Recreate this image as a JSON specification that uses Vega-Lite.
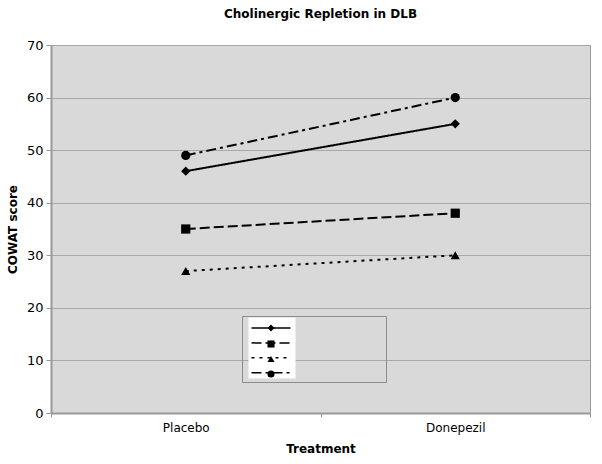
{
  "$schema": "https://vega.github.io/schema/vega-lite/v6.json",
  "width": 539,
  "height": 368,
  "autosize": {"type": "none"},
  "padding": {"left": 51, "top": 45, "right": 12, "bottom": 51},
  "background": "white",
  "title": {
    "text": "Cholinergic Repletion in DLB",
    "font": "DejaVu Sans",
    "fontSize": 12,
    "fontWeight": "bold",
    "color": "black",
    "offset": 18,
    "anchor": "middle"
  },
  "config": {
    "view": {"fill": "#d9d9d9", "stroke": "#9a9a9a", "strokeWidth": 1},
    "font": "DejaVu Sans",
    "axis": {
      "labelFont": "DejaVu Sans",
      "titleFont": "DejaVu Sans",
      "labelColor": "black",
      "titleColor": "black",
      "domainColor": "#999999",
      "domainWidth": 2,
      "tickColor": "#999999",
      "gridColor": "#a8a8a8",
      "gridWidth": 1
    }
  },
  "data": {
    "values": [
      {"treatment": "Placebo", "series": "Series 1", "score": 46},
      {"treatment": "Donepezil", "series": "Series 1", "score": 55},
      {"treatment": "Placebo", "series": "Series 2", "score": 35},
      {"treatment": "Donepezil", "series": "Series 2", "score": 38},
      {"treatment": "Placebo", "series": "Series 3", "score": 27},
      {"treatment": "Donepezil", "series": "Series 3", "score": 30},
      {"treatment": "Placebo", "series": "Series 4", "score": 49},
      {"treatment": "Donepezil", "series": "Series 4", "score": 60}
    ]
  },
  "encoding": {
    "x": {
      "field": "treatment",
      "type": "nominal",
      "sort": ["Placebo", "Donepezil"],
      "bandPosition": 0.5,
      "scale": {"type": "band", "paddingInner": 0, "paddingOuter": 0},
      "axis": {
        "title": "Treatment",
        "labelAngle": 0,
        "labelFontSize": 12,
        "titleFontSize": 12,
        "titleFontWeight": "bold",
        "tickBand": "extent",
        "tickSize": 4,
        "labelPadding": 5,
        "titlePadding": 10
      }
    },
    "y": {
      "field": "score",
      "type": "quantitative",
      "scale": {"domain": [0, 70]},
      "axis": {
        "title": "COWAT score",
        "values": [0, 10, 20, 30, 40, 50, 60, 70],
        "labelFontSize": 13,
        "titleFontSize": 12,
        "titleFontWeight": "bold",
        "tickSize": 5,
        "labelPadding": 3,
        "titlePadding": 7,
        "grid": true
      }
    }
  },
  "layer": [
    {
      "mark": {"type": "line", "strokeWidth": 2},
      "encoding": {
        "color": {
          "field": "series",
          "type": "nominal",
          "scale": {
            "domain": ["Series 4", "Series 3", "Series 2", "Series 1"],
            "range": ["black", "black", "black", "black"]
          },
          "legend": {
            "orient": "none",
            "legendX": 191,
            "legendY": 271,
            "title": null,
            "strokeColor": "#8c8c8c",
            "padding": 4,
            "symbolSize": 100,
            "symbolOpacity": 0,
            "rowPadding": 4.6,
            "labelExpr": "''",
            "labelOffset": 124
          }
        },
        "strokeDash": {
          "field": "series",
          "type": "nominal",
          "scale": {
            "range": [[1, 0], [10, 4], [3, 5], [10, 4, 3, 4]]
          },
          "legend": {
            "orient": "none",
            "legendX": 197.5,
            "legendY": 272.5,
            "title": null,
            "fillColor": "white",
            "padding": 2,
            "symbolType": "M-2.6,0H2.6",
            "symbolSize": 225,
            "symbolStrokeColor": "black",
            "symbolStrokeWidth": 1.5,
            "symbolOffset": 12,
            "rowPadding": 2.9,
            "labelExpr": "''",
            "labelFontSize": 4,
            "labelOffset": 0
          }
        }
      }
    },
    {
      "mark": {"type": "point", "filled": true, "color": "black", "opacity": 1, "size": 85},
      "encoding": {
        "shape": {
          "field": "series",
          "type": "nominal",
          "scale": {
            "domain": ["Series 1", "Series 2", "Series 3", "Series 4"],
            "range": ["diamond", "square", "triangle-up", "circle"]
          },
          "legend": {
            "orient": "none",
            "legendX": 215.5,
            "legendY": 278.5,
            "title": null,
            "padding": 0,
            "symbolSize": 50,
            "symbolFillColor": "black",
            "symbolStrokeColor": "black",
            "symbolOpacity": 1,
            "rowPadding": 1,
            "labelExpr": "''",
            "labelFontSize": 4,
            "labelOffset": 0
          }
        }
      }
    }
  ]
}
